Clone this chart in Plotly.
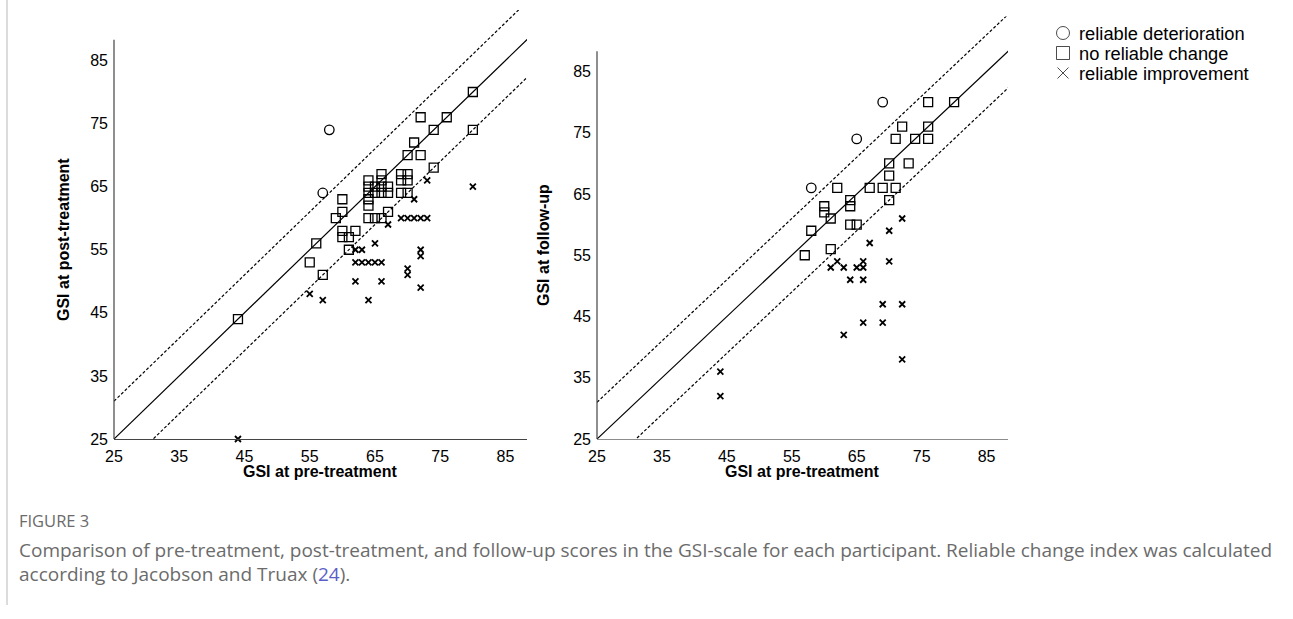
import plotly.graph_objects as go

# ---------------- data (pre, post / follow-up) ----------------
# Left panel: pre-treatment vs post-treatment
L_det_pre = [58, 57]
L_det_post = [74, 64]

L_nc_pre = [80, 72, 76, 74, 80, 71, 70, 72, 74,
            69, 70, 69, 70,
            66, 64, 66, 64, 65, 66, 67, 64, 65, 66, 67, 64, 64,
            69, 70,
            60, 60, 59, 64, 65, 66, 67,
            60, 62, 60, 61,
            56, 61, 55, 57, 44]
L_nc_post = [80, 76, 76, 74, 74, 72, 70, 70, 68,
             67, 67, 66, 66,
             67, 66, 66, 65, 65, 65, 65, 64, 64, 64, 64, 63, 62,
             64, 64,
             63, 61, 60, 60, 60, 60, 61,
             58, 58, 57, 57,
             56, 55, 53, 51, 44]

L_imp_pre = [80, 73, 71, 69, 70, 71, 72, 73, 67, 65, 62, 63, 72, 72,
             62, 63, 64, 65, 66, 70, 70, 62, 66, 72, 55, 57, 64, 44]
L_imp_post = [65, 66, 63, 60, 60, 60, 60, 60, 59, 56, 55, 55, 55, 54,
              53, 53, 53, 53, 53, 52, 51, 50, 50, 49, 48, 47, 47, 25]

# Right panel: pre-treatment vs follow-up
R_det_pre = [69, 65, 58]
R_det_fu = [80, 74, 66]

R_nc_pre = [76, 80, 72, 76, 71, 74, 76, 70, 73, 70, 62, 67, 69, 71,
            64, 70, 64, 60, 60, 61, 58, 64, 65, 61, 57]
R_nc_fu = [80, 80, 76, 76, 74, 74, 74, 70, 70, 68, 66, 66, 66, 66,
           64, 64, 63, 63, 62, 61, 59, 60, 60, 56, 55]

R_imp_pre = [72, 70, 67, 62, 66, 70, 61, 63, 65, 66, 64, 66, 69, 72,
             66, 69, 63, 72, 44, 44]
R_imp_fu = [61, 59, 57, 54, 54, 54, 53, 53, 53, 53, 51, 51, 47, 47,
            44, 44, 42, 38, 36, 32]

RCI = 6                      # reliable change band (+/-)
line_x = [25, 110]           # reference line span
ticks = [25, 35, 45, 55, 65, 75, 85]
legend_names = ["reliable deterioration", "no reliable change", "reliable improvement"]
legend_symbols = ["circle-open", "square-open", "x-thin"]

# ---------------- figure ----------------
W, H = 1293, 619
def px(x): return x / W
def py(y): return 1 - y / H

fig = go.Figure()

def add_panel(xr, yr, det, nc, imp):
    fig.add_trace(go.Scatter(x=line_x, y=line_x, mode="lines", xaxis=xr, yaxis=yr,
                             line=dict(color="black", width=1.2), showlegend=False, hoverinfo="skip"))
    for off in (RCI, -RCI):
        fig.add_trace(go.Scatter(x=line_x, y=[v + off for v in line_x], mode="lines",
                                 xaxis=xr, yaxis=yr,
                                 line=dict(color="black", width=1.2, dash="3px,2px"),
                                 showlegend=False, hoverinfo="skip"))
    fig.add_trace(go.Scatter(x=det[0], y=det[1], mode="markers", xaxis=xr, yaxis=yr,
                             marker=dict(symbol="circle-open", size=9.5, color="black",
                                         line=dict(width=1.3)),
                             showlegend=False, cliponaxis=False))
    fig.add_trace(go.Scatter(x=nc[0], y=nc[1], mode="markers", xaxis=xr, yaxis=yr,
                             marker=dict(symbol="square-open", size=9, color="black",
                                         line=dict(width=1.3)),
                             showlegend=False, cliponaxis=False))
    fig.add_trace(go.Scatter(x=imp[0], y=imp[1], mode="markers", xaxis=xr, yaxis=yr,
                             marker=dict(symbol="x-thin", size=6, color="black",
                                         line=dict(width=1.8, color="black")),
                             showlegend=False, cliponaxis=False))

add_panel("x", "y", (L_det_pre, L_det_post), (L_nc_pre, L_nc_post), (L_imp_pre, L_imp_post))
add_panel("x2", "y2", (R_det_pre, R_det_fu), (R_nc_pre, R_nc_fu), (R_imp_pre, R_imp_fu))

# manual legend drawn on a hidden full-page pixel axis
LEG_X, LEG_Y0, LEG_DY, LEG_TX = 1063, 33, 20, 1077
fig.add_trace(go.Scatter(
    x=[LEG_X] * 3, y=[LEG_Y0 + i * LEG_DY for i in range(3)], mode="markers",
    xaxis="x3", yaxis="y3", showlegend=False, hoverinfo="skip", cliponaxis=False,
    marker=dict(symbol=legend_symbols, size=[13, 13, 11], color="black",
                line=dict(width=1, color="black"))))
for i, name in enumerate(legend_names):
    fig.add_annotation(xref="x3", yref="y3", x=LEG_TX, y=LEG_Y0 + i * LEG_DY, text=name,
                       xanchor="left", yanchor="middle", showarrow=False,
                       font=dict(family="Liberation Sans, Arial, sans-serif", size=18.3, color="black"))

axis_font = dict(family="Liberation Sans, Arial, sans-serif", size=16, color="black")
XMAX = 88.3

LX0, LX1 = 114, 527
RX0, RX1 = 597, 1008
Y0 = 439
LYTOP, RYTOP = 10, 16.4

common_x = dict(range=[25, XMAX], tickmode="array", tickvals=ticks, ticks="", showgrid=False,
                zeroline=False, showline=True, linewidth=1.2, tickfont=axis_font,
                ticklabelstandoff=3, fixedrange=True, automargin=False)
common_y = dict(tickmode="array", tickvals=ticks, ticks="", showgrid=False, zeroline=False,
                showline=False, tickfont=axis_font, ticklabelstandoff=5, fixedrange=True,
                automargin=False)

fig.update_layout(
    template="none",
    width=W, height=H,
    margin=dict(l=0, r=0, t=0, b=0, pad=0),
    paper_bgcolor="white", plot_bgcolor="rgba(0,0,0,0)",
    xaxis=dict(domain=[px(LX0), px(LX1)], anchor="y", linecolor="#444", **common_x),
    yaxis=dict(domain=[py(Y0), py(LYTOP)], anchor="x", range=[25, 93], **common_y),
    xaxis2=dict(domain=[px(RX0), px(RX1)], anchor="y2", linecolor="#8c8c8c", **common_x),
    yaxis2=dict(domain=[py(Y0), py(RYTOP)], anchor="x2", range=[25, 94], **common_y),
    xaxis3=dict(domain=[0, 1], range=[0, W], visible=False, fixedrange=True, automargin=False),
    yaxis3=dict(domain=[0, 1], range=[H, 0], visible=False, fixedrange=True, automargin=False,
                anchor="x3"),
    showlegend=False,
)

# y-axis spines (only up to the top of the axis scale)
fig.add_shape(type="line", xref="paper", yref="y", x0=px(LX0), x1=px(LX0), y0=25, y1=XMAX,
              line=dict(color="#444", width=1.2))
fig.add_shape(type="line", xref="paper", yref="y2", x0=px(RX0), x1=px(RX0), y0=25, y1=XMAX,
              line=dict(color="#444", width=1.2))
# page frame line at left
fig.add_shape(type="line", xref="paper", yref="paper", x0=px(7), x1=px(7), y0=py(0), y1=py(605),
              line=dict(color="#d0d0d0", width=1.5))

title_font = dict(family="Liberation Sans, Arial, sans-serif", size=16, color="black")
ann = [
    dict(text="<b>GSI at post-treatment</b>", x=px(63), y=py(240), textangle=-90),
    dict(text="<b>GSI at pre-treatment</b>", x=px(320), y=py(471)),
    dict(text="<b>GSI at follow-up</b>", x=px(543), y=py(245), textangle=-90),
    dict(text="<b>GSI at pre-treatment</b>", x=px(802), y=py(471)),
]
for a in ann:
    fig.add_annotation(xref="paper", yref="paper", showarrow=False, font=title_font,
                       xanchor="center", yanchor="middle", **a)

cap_font = dict(family="Open Sans, sans-serif", size=19, color="#6b6b6b")
fig.add_annotation(xref="paper", yref="paper", x=px(17), y=py(520), xanchor="left", yanchor="middle",
                   text="FIGURE 3", showarrow=False,
                   font=dict(family="Open Sans, sans-serif", size=16.5, color="#6b6b6b"))
fig.add_annotation(xref="paper", yref="paper", x=px(17), y=py(550), xanchor="left", yanchor="middle",
                   text="Comparison of pre-treatment, post-treatment, and follow-up scores in the GSI-scale "
                        "for each participant. Reliable change index was calculated",
                   showarrow=False, font=cap_font)
fig.add_annotation(xref="paper", yref="paper", x=px(17), y=py(574), xanchor="left", yanchor="middle",
                   text="according to Jacobson and Truax (<span style='color:#5b5fc7'>24</span>).",
                   showarrow=False, font=cap_font)

fig.write_html("out.html", config={"displayModeBar": False},
               post_script="document.body.style.margin='0px';")
